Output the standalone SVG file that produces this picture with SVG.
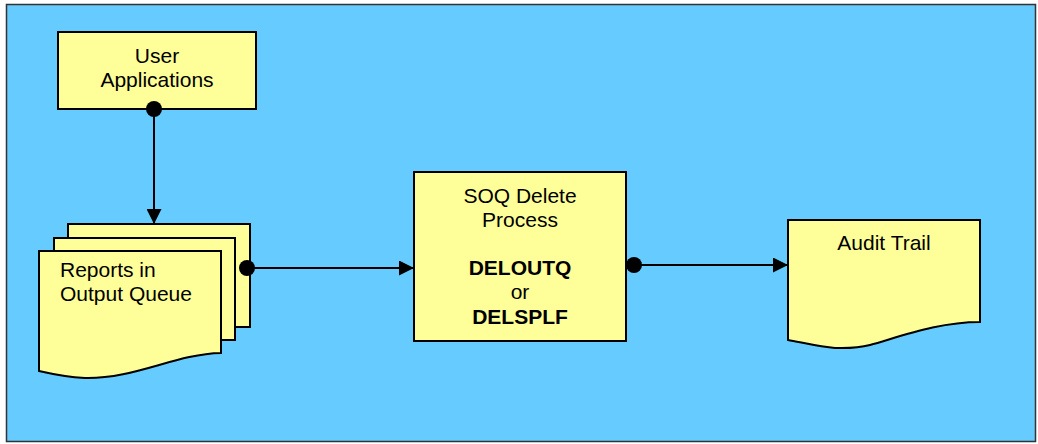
<svg xmlns="http://www.w3.org/2000/svg" width="1038" height="444" viewBox="0 0 1038 444">
<style>
.box{fill:#FFFF99;stroke:#000;stroke-width:2}
.t{font-family:"Liberation Sans",Arial,sans-serif;font-size:21px;fill:#000}
.c{text-anchor:middle}
.b{font-weight:bold}
.ln{stroke:#000;stroke-width:2;fill:none}
</style>
<defs>
<marker id="arr" markerWidth="15" markerHeight="15" refX="15" refY="7.5" orient="auto" markerUnits="userSpaceOnUse">
<path d="M0,0 L15,7.5 L0,15 Z" fill="#000"/>
</marker>
</defs>
<rect x="6.5" y="4.5" width="1029" height="437" fill="#66CCFF" stroke="#333" stroke-width="1.5"/>
<g id="user-applications">
<rect class="box" x="58" y="32" width="198" height="77"/>
<text class="t c" x="157" y="63">User</text>
<text class="t c" x="157" y="87">Applications</text>
</g>
<g id="reports">
<rect class="box" x="68" y="224" width="182" height="103"/>
<rect class="box" x="54" y="238" width="181" height="102"/>
<path class="box" d="M39,251 H221 V353 C175,354 135,379 85,378 C65,377 52,374 39,371 Z"/>
<text class="t" x="60" y="277">Reports in</text>
<text class="t" x="60" y="301">Output Queue</text>
</g>
<g id="process">
<rect class="box" x="414" y="172" width="212" height="169"/>
<text class="t c" x="520" y="203">SOQ Delete</text>
<text class="t c" x="520" y="227">Process</text>
<text class="t c b" x="520" y="275">DELOUTQ</text>
<text class="t c" x="520" y="299">or</text>
<text class="t c b" x="520" y="324">DELSPLF</text>
</g>
<g id="audit-trail">
<path class="box" d="M788,220 H980 V322 C940,322 905,335 870,345 C855,349 840,348 835,348 C820,347 800,342 788,340 Z"/>
<text class="t c" x="884" y="250">Audit Trail</text>
</g>
<g id="connectors">
<line class="ln" x1="154" y1="109" x2="154" y2="224" marker-end="url(#arr)"/>
<circle cx="154" cy="109" r="8" fill="#000"/>
<line class="ln" x1="247" y1="268" x2="414" y2="268" marker-end="url(#arr)"/>
<circle cx="247" cy="268" r="8" fill="#000"/>
<line class="ln" x1="634" y1="265" x2="788" y2="265" marker-end="url(#arr)"/>
<circle cx="634" cy="265" r="8" fill="#000"/>
</g>
</svg>
